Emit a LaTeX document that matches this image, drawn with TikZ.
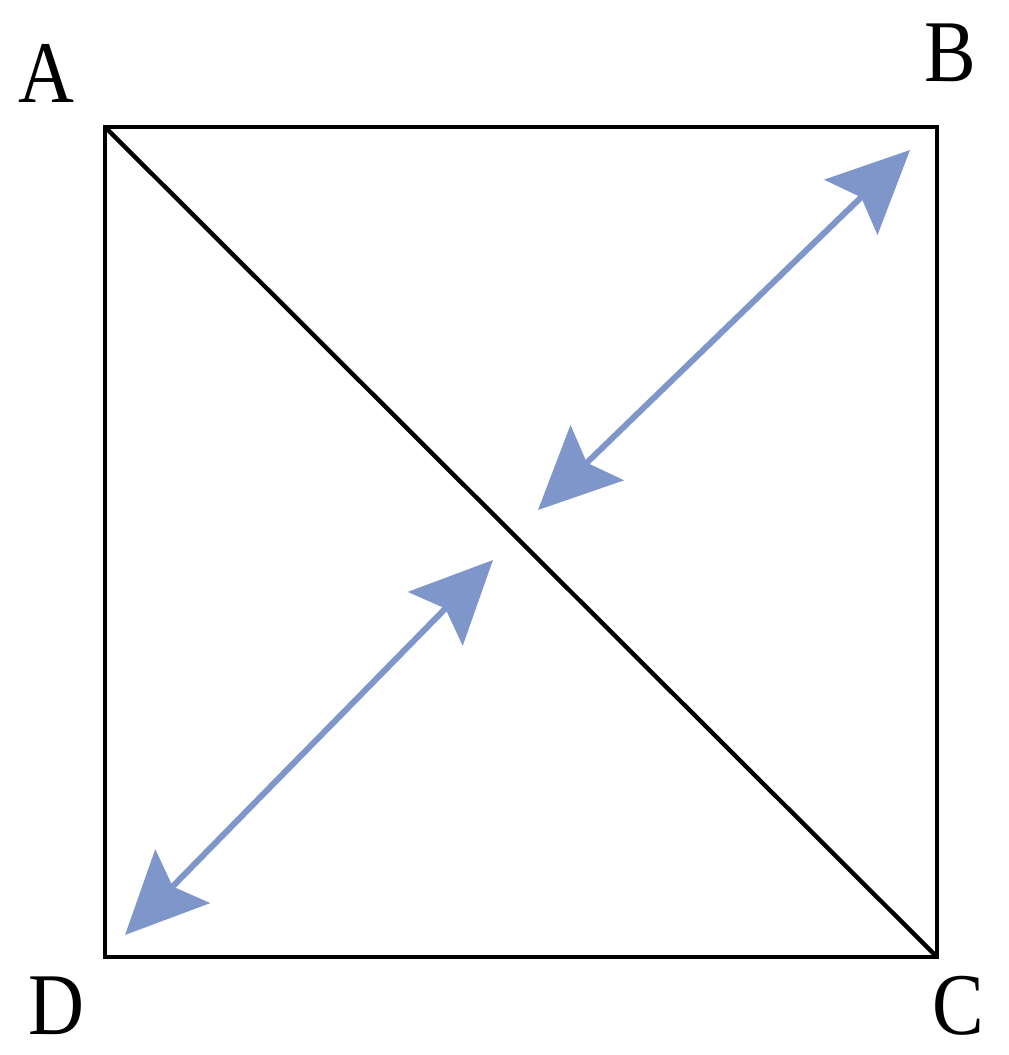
\documentclass[tikz,border=0pt]{standalone}
\usepackage{fontspec}
\setmainfont{Liberation Serif}
\usetikzlibrary{arrows.meta}
\definecolor{arrowblue}{HTML}{7E96C9}
\begin{document}
\begin{tikzpicture}[x=0.5pt,y=-0.5pt,
  edge/.style={line width=2.2pt,line join=miter},
  dbl/.style={arrowblue,line width=3pt,{Stealth[length=41pt,width=38pt,inset=7pt]}-{Stealth[length=41pt,width=38pt,inset=7pt]}},
  lbl/.style={font=\fontsize{44}{48}\selectfont,inner sep=0pt,xscale=0.88}]
\useasboundingbox (0,0) rectangle (1008,1055);
\fill[white] (0,0) rectangle (1008,1055);
\coordinate (A) at (105,127);
\coordinate (B) at (937,127);
\coordinate (C) at (937,957);
\coordinate (D) at (105,957);
\draw[edge] (A) -- (B) -- (C) -- (D) -- cycle;
\draw[edge] (A) -- (C);
\coordinate (p1) at (910,150);
\coordinate (p2) at (538,510);
\coordinate (q1) at (493,560);
\coordinate (q2) at (125,935);
\draw[dbl] (p2) -- (p1);
\draw[dbl] (q2) -- (q1);
\node[lbl] (lA) at (46,73) {A};
\node[lbl] (lB) at (950,53) {B};
\node[lbl] (lD) at (56,1006) {D};
\node[lbl] (lC) at (958,1006) {C};
\end{tikzpicture}
\end{document}
